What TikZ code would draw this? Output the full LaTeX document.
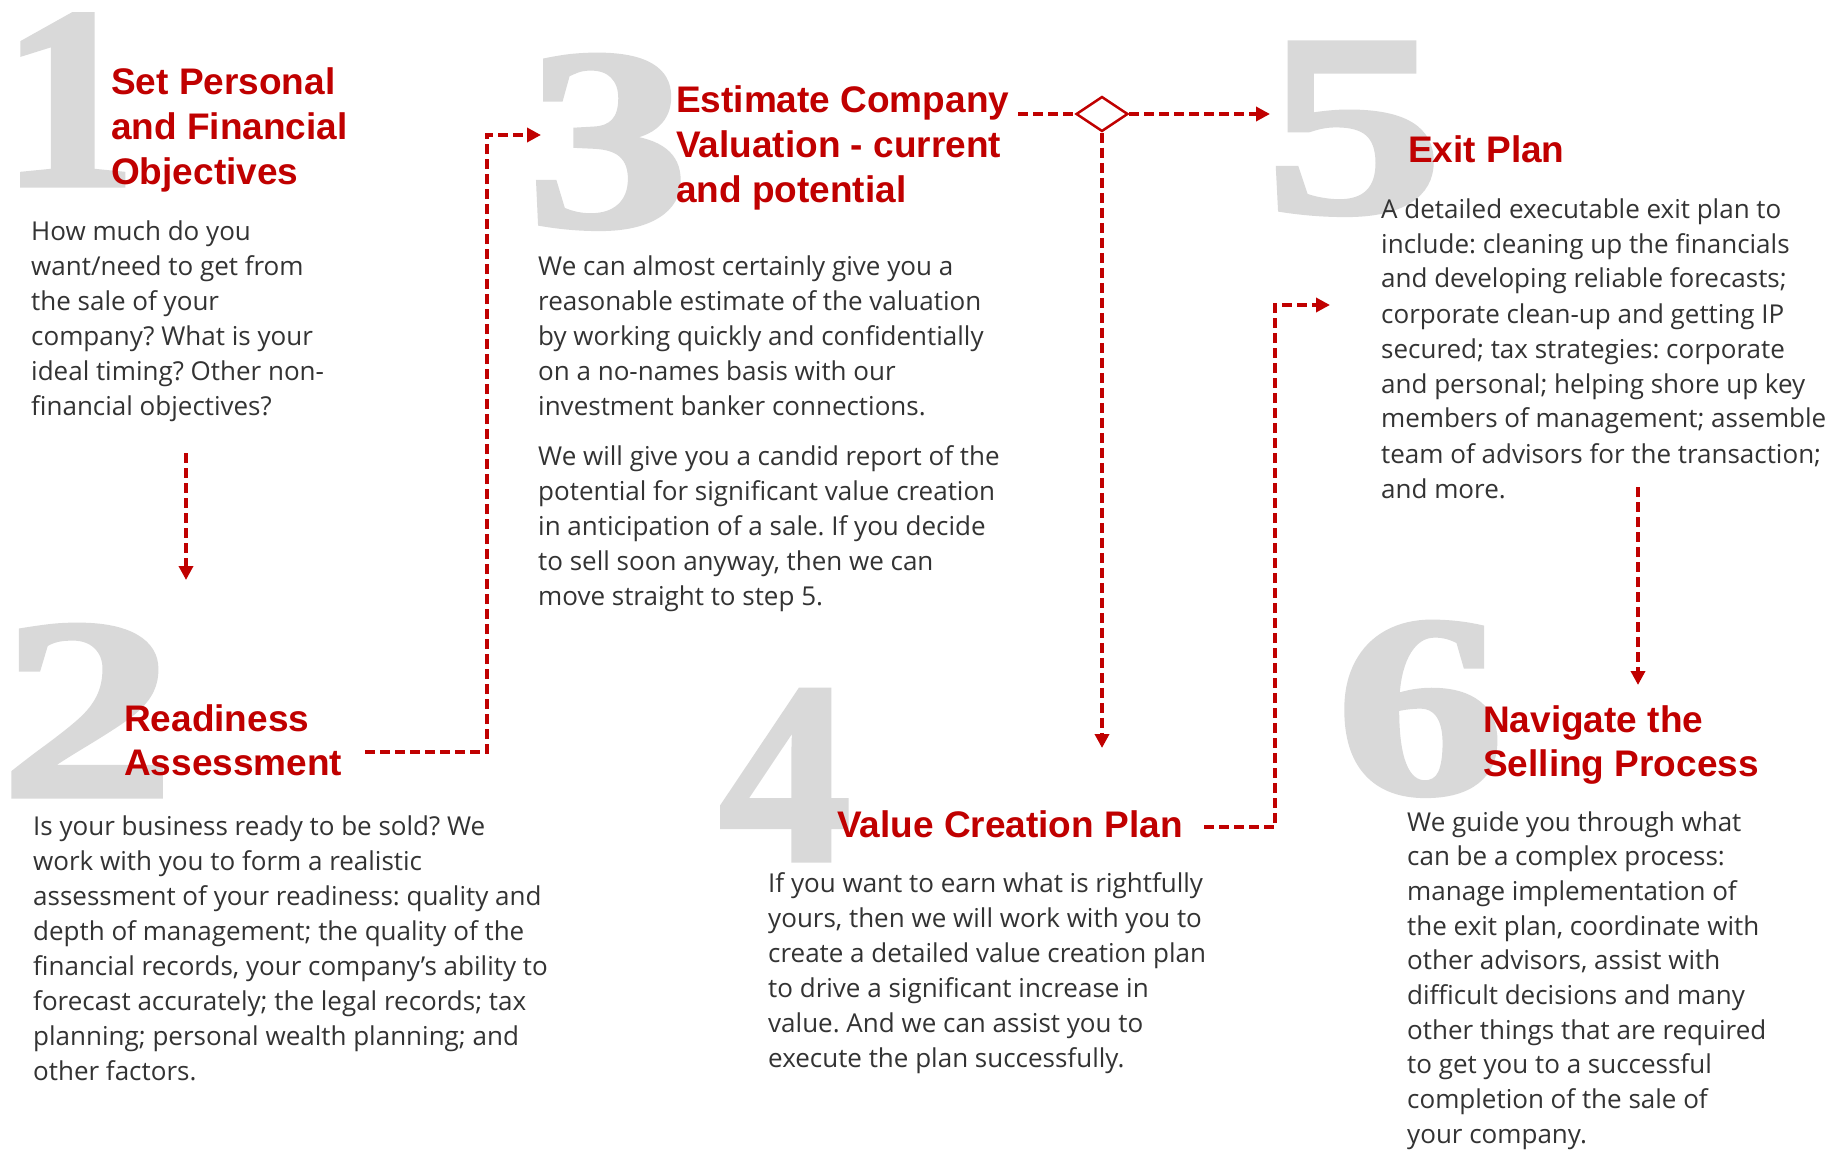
\documentclass[tikz,border=0pt]{standalone}
\usepackage{fontspec}
\setmainfont{Open Sans}
\newfontfamily\titlefont{Liberation Sans}
\newfontfamily\digitfont[FakeBold=2]{Liberation Serif}
\usetikzlibrary{arrows.meta,shapes.geometric}
\definecolor{accent}{HTML}{C00000}
\definecolor{digitgrey}{HTML}{D9D9D9}
\definecolor{bodytext}{HTML}{333333}
\tikzset{
  bignum/.style={anchor=base west, inner sep=0pt, text=digitgrey, font=\digitfont\bfseries\fontsize{258}{258}\selectfont},
  steptitle/.style={anchor=base west, inner sep=0pt, text=accent, font=\titlefont\bfseries\fontsize{37}{45}\selectfont},
  steptitletight/.style={steptitle, font=\titlefont\bfseries\fontsize{37}{44}\selectfont},
  stepbody/.style={anchor=base west, inner sep=0pt, text=bodytext, font=\fontsize{26}{35}\selectfont},
  flowline/.style={draw=accent, line width=3.5pt, dash pattern=on 10pt off 5pt, -{Triangle[length=14pt,width=14pt,fill=accent]}},
  plainflow/.style={draw=accent, line width=3.5pt, dash pattern=on 10pt off 5pt},
  decision/.style={diamond, draw=accent, line width=2.5pt, fill=white, minimum width=52pt, minimum height=35pt, inner sep=0pt},
}
\newcommand{\lines}[2]{\parbox[t]{#1pt}{\raggedright\frenchspacing #2}}
\newcommand{\wide}[2]{\scalebox{#1}[1]{#2}}
\begin{document}
\begin{tikzpicture}[x=1pt,y=-1pt]
\fill[white] (0,0) rectangle (1847,1153);
\useasboundingbox (0,0) rectangle (1847,1153);

% big grey numerals
\node[bignum] (n1) at (1,185) {\wide{1.05}{1}};
\node[bignum] (n2) at (0,796) {\wide{1.35}{2}};
\node[bignum] (n3) at (527,226) {\wide{1.25}{3}};
\node[bignum] (n4) at (719,860) {\wide{1.02}{4}};
\node[bignum] (n5) at (1265,212) {\wide{1.38}{5}};
\node[bignum] (n6) at (1336,793) {\wide{1.3}{6}};

% titles
\node[steptitle] (t1) at (111,95) {\lines{400}{Set Personal\\and Financial\\Objectives}};
\node[steptitletight] (t2) at (124,731) {\lines{400}{Readiness\\Assessment}};
\node[steptitle] (t3) at (676,113) {\lines{400}{Estimate Company\\Valuation - current\\and potential}};
\node[steptitle] (t4) at (837,837) {Value Creation Plan};
\node[steptitle] (t5) at (1408,162) {Exit Plan};
\node[steptitletight] (t6) at (1483,732) {\lines{400}{Navigate the\\Selling Process}};

% body texts
\node[stepbody] (b1) at (31,240) {\lines{400}{How much do you\\want/need to get from\\the sale of your\\company? What is your\\ideal timing? Other non-\\financial objectives?}};
\node[stepbody] (b2) at (33,835) {\lines{600}{Is your business ready to be sold? We\\work with you to form a realistic\\assessment of your readiness: quality and\\depth of management; the quality of the\\financial records, your company’s ability to\\forecast accurately; the legal records; tax\\planning; personal wealth planning; and\\other factors.}};
\node[stepbody] (b3) at (538,275) {\lines{600}{We can almost certainly give you a\\reasonable estimate of the valuation\\by working quickly and confidentially\\on a no-names basis with our\\investment banker connections.\\[15pt]We will give you a candid report of the\\potential for significant value creation\\in anticipation of a sale. If you decide\\to sell soon anyway, then we can\\move straight to step 5.}};
\node[stepbody] (b4) at (768,892) {\lines{600}{If you want to earn what is rightfully\\yours, then we will work with you to\\create a detailed value creation plan\\to drive a significant increase in\\value. And we can assist you to\\execute the plan successfully.}};
\node[stepbody] (b5) at (1381,218) {\lines{500}{A detailed executable exit plan to\\include: cleaning up the financials\\and developing reliable forecasts;\\corporate clean-up and getting IP\\secured; tax strategies: corporate\\and personal; helping shore up key\\members of management; assemble\\team of advisors for the transaction;\\and more.}};
\node[stepbody, font=\fontsize{26}{34.7}\selectfont] (b6) at (1407,831) {\lines{500}{We guide you through what\\can be a complex process:\\manage implementation of\\the exit plan, coordinate with\\other advisors, assist with\\difficult decisions and many\\other things that are required\\to get you to a successful\\completion of the sale of\\your company.}};

% decision diamond
\node[decision] (dia) at (1102,114) {};

% connector anchor points
\coordinate (s12) at (186,453);
\coordinate (e12) at (186,580);
\coordinate (s23) at (365,752);
\coordinate (k23a) at (487,752);
\coordinate (k23b) at (487,135);
\coordinate (e23) at (541,135);
\coordinate (s3d) at (1018,114);
\coordinate (e35) at (1270,114);
\coordinate (e34) at (1102,748);
\coordinate (s45) at (1204,827);
\coordinate (k45a) at (1275,827);
\coordinate (k45b) at (1275,305);
\coordinate (e45) at (1330,305);
\coordinate (s56) at (1638,487);
\coordinate (e56) at (1638,685);

% connectors
\draw[flowline] (s12) -- (e12);
\draw[flowline] (s23) -- (k23a) -- (k23b) -- (e23);
\draw[plainflow] (s3d) -- (dia.west);
\draw[flowline] (dia.east) -- (e35);
\draw[flowline] (dia.south) -- (e34);
\draw[flowline] (s45) -- (k45a) -- (k45b) -- (e45);
\draw[flowline] (s56) -- (e56);
\end{tikzpicture}
\end{document}
